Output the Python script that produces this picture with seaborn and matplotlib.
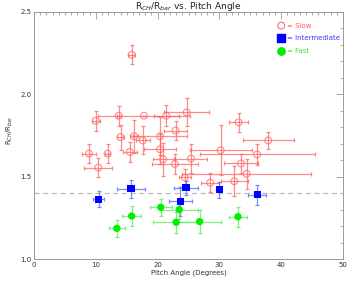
import matplotlib
matplotlib.use("Agg")
import matplotlib.pyplot as plt
import seaborn as sns
import pandas as pd
from matplotlib.ticker import MultipleLocator

# slow bars (open red circles)
slow_x = [15.8, 10.0, 13.7, 17.8, 21.4, 24.7, 33.1, 22.9, 14.0, 16.2, 17.6, 20.4, 8.9, 11.9,
          15.5, 20.4, 10.4, 20.9, 22.8, 30.2, 37.9, 36.1, 25.4, 33.5, 24.4, 28.5, 32.4, 34.4]
slow_y = [2.24, 1.84, 1.87, 1.87, 1.87, 1.89, 1.83, 1.78, 1.74, 1.745, 1.72, 1.745, 1.64, 1.64,
          1.65, 1.666, 1.555, 1.605, 1.577, 1.66, 1.72, 1.635, 1.61, 1.58, 1.495, 1.463, 1.472, 1.517]
slow_xerr = [0.55, 0.6, 0.3, 7.4, 2.0, 3.6, 1.6, 1.9, 0.5, 0.6, 1.1, 4.4, 1.2, 0.4,
             1.1, 2.6, 2.3, 1.7, 3.7, 5.0, 4.1, 9.3, 2.6, 2.8, 1.0, 1.5, 2.2, 10.4]
slow_yerr = [0.057, 0.06, 0.06, 0.0, 0.063, 0.085, 0.058, 0.058, 0.076, 0.1, 0.085, 0.115, 0.058, 0.058,
             0.06, 0.09, 0.06, 0.1, 0.06, 0.153, 0.053, 0.065, 0.09, 0.06, 0.05, 0.058, 0.09, 0.09]

# intermediate bars (blue squares)
mid_x = [10.5, 15.7, 24.6, 23.7, 30.0, 36.1]
mid_y = [1.364, 1.427, 1.433, 1.35, 1.421, 1.39]
mid_xerr = [0.9, 2.3, 2.0, 1.9, 0.5, 1.5]
mid_yerr = [0.049, 0.055, 0.043, 0.09, 0.049, 0.06]

# fast bars (green circles)
fast_x = [13.4, 15.8, 20.5, 23.5, 23.0, 26.8, 33.0]
fast_y = [1.186, 1.261, 1.314, 1.30, 1.223, 1.227, 1.257]
fast_xerr = [1.27, 1.5, 1.75, 3.0, 3.8, 3.5, 1.5]
fast_yerr = [0.053, 0.063, 0.05, 0.06, 0.065, 0.07, 0.06]

threshold = 1.4

sns.set_style("white")
plt.rcParams['font.family'] = ['DejaVu Sans']

fig, ax = plt.subplots(figsize=(3.54, 2.84), dpi=100)
fig.subplots_adjust(left=0.096, right=0.969, top=0.958, bottom=0.088)

ax.axhline(threshold, color='#bbbbbb', ls=(0, (4, 3)), lw=0.9, zorder=1)

# error bars first, then the markers with seaborn
ax.errorbar(slow_x, slow_y, xerr=slow_xerr, yerr=slow_yerr, fmt='none',
            ecolor='#ff5a5a', alpha=0.7, elinewidth=0.9, capsize=1.5, capthick=0.9, zorder=2)
ax.errorbar(mid_x, mid_y, xerr=mid_xerr, yerr=mid_yerr, fmt='none',
            ecolor='#6070ff', alpha=0.8, elinewidth=0.9, capsize=1.5, capthick=0.9, zorder=2)
ax.errorbar(fast_x, fast_y, xerr=fast_xerr, yerr=fast_yerr, fmt='none',
            ecolor='#60ee60', alpha=0.8, elinewidth=0.9, capsize=1.5, capthick=0.9, zorder=2)

slow = pd.DataFrame({'x': slow_x, 'y': slow_y})
mid = pd.DataFrame({'x': mid_x, 'y': mid_y})
fast = pd.DataFrame({'x': fast_x, 'y': fast_y})

sns.scatterplot(data=slow, x='x', y='y', ax=ax, marker='o', s=24,
                facecolor='none', edgecolor='#ff6a6a', linewidth=0.8, alpha=0.8, zorder=3)
sns.scatterplot(data=mid, x='x', y='y', ax=ax, marker='s', s=26,
                color='#0000ff', edgecolor='none', linewidth=0, zorder=3)
sns.scatterplot(data=fast, x='x', y='y', ax=ax, marker='o', s=28,
                color='#00ee00', edgecolor='none', linewidth=0, zorder=3)

# legend drawn like the IDL original
ax.scatter([40.0], [2.417], marker='o', s=24, facecolor='none', edgecolor='#ff6a6a', linewidth=0.8)
ax.scatter([40.0], [2.343], marker='s', s=26, color='#0000ff')
ax.scatter([40.0], [2.265], marker='o', s=28, color='#00ee00')
ax.text(40.9, 2.417, '= Slow', color='#ff5a5a', fontsize=5, va='center')
ax.text(40.9, 2.343, '= Intermediate', color='#3a3aff', fontsize=5, va='center')
ax.text(40.9, 2.265, '= Fast', color='#40e040', fontsize=5, va='center')

ax.set_xlim(0, 50)
ax.set_ylim(1.0, 2.5)
ax.xaxis.set_major_locator(MultipleLocator(10))
ax.xaxis.set_minor_locator(MultipleLocator(1))
ax.yaxis.set_major_locator(MultipleLocator(0.5))
ax.yaxis.set_minor_locator(MultipleLocator(0.1))
ax.yaxis.set_major_formatter(matplotlib.ticker.FormatStrFormatter('%.1f'))
ax.tick_params(which='both', direction='in', top=True, right=True, color='#999999',
               labelsize=5, pad=2, labelcolor='#333333')
ax.tick_params(which='major', length=5, width=0.6)
ax.tick_params(which='minor', length=2.5, width=0.6)
for sp in ax.spines.values():
    sp.set_color('#999999')
    sp.set_linewidth(0.7)

ax.set_title(r'R$_{CH}$/R$_{bar}$ vs. Pitch Angle', fontsize=6.5, pad=2, color='#222222')
ax.set_xlabel('Pitch Angle (Degrees)', fontsize=5, labelpad=1, color='#333333')
ax.set_ylabel(r'R$_{CH}$/R$_{bar}$', fontsize=5, color='#333333')
ax.yaxis.set_label_coords(-0.06, 0.52)

fig.savefig('out.png', dpi=100)
